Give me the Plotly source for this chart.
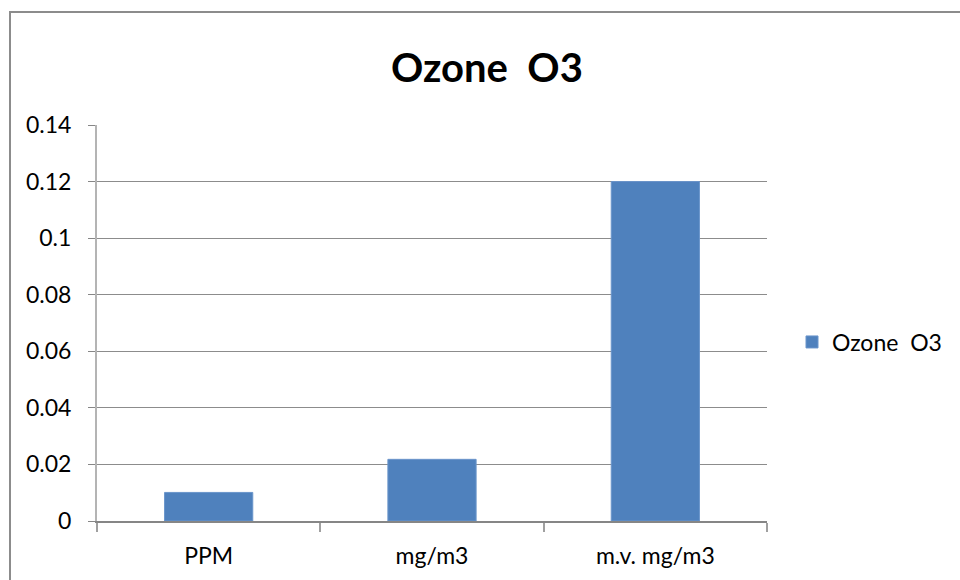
import plotly.graph_objects as go

categories = ["PPM", "mg/m3", "m.v. mg/m3"]
values = [0.0101, 0.0218, 0.12]
series_name = "Ozone  O3"
title_text = "Ozone  O3"
y_ticks = [0, 0.02, 0.04, 0.06, 0.08, 0.1, 0.12, 0.14]
y_tick_labels = ["0", "0.02", "0.04", "0.06", "0.08", "0.1", "0.12", "0.14"]

FONT = "Lato, Open Sans, sans-serif"
W, H = 960, 580
L, R, T, B = 97, W - 767, 125, H - 521

fig = go.Figure()
fig.add_trace(go.Bar(
    x=categories, y=values, name=series_name,
    marker=dict(color="#4f81bd", line=dict(color="#6a95cb", width=1)),
    showlegend=True,
))

pw = W - L - R
ph = H - T - B
def px(xp):
    return (xp - L) / pw
def py(yp):
    return (H - B - yp) / ph

fig.add_shape(type="rect", xref="paper", yref="paper",
              x0=px(10), x1=px(990), y0=py(620), y1=py(12),
              line=dict(color="#8c8c8c", width=2), fillcolor="rgba(0,0,0,0)", layer="below")

fig.update_layout(
    width=W, height=H,
    margin=dict(l=L, r=R, t=T, b=B, autoexpand=False),
    paper_bgcolor="white", plot_bgcolor="white",
    font=dict(family=FONT, color="#000000", size=23),
    title=dict(text="<b>" + title_text.replace("  ", "\u00a0 ") + "</b>", x=487 / W, xanchor="center",
               y=1 - 68 / H, yanchor="middle", font=dict(size=40, family=FONT)),
    bargap=0.605,
    showlegend=True,
    legend=dict(x=px(792), xanchor="left", y=py(342), yanchor="middle",
                font=dict(size=23), bgcolor="rgba(0,0,0,0)", itemwidth=30),
    xaxis=dict(showline=True, linecolor="#868686", linewidth=2, ticks="outside",
               tickson="boundaries", ticklen=9, tickcolor="#a0a0a0", tickwidth=2,
               showgrid=False, tickfont=dict(size=23), ticklabelstandoff=13),
    yaxis=dict(range=[0, 0.14], tickvals=y_ticks, ticktext=y_tick_labels,
               showline=True, linecolor="#b4b4b4", linewidth=2, ticks="outside",
               ticklen=7, tickcolor="#868686", showgrid=True, gridcolor="#8c8c8c",
               gridwidth=1, zeroline=False, tickfont=dict(size=23), ticklabelstandoff=12),
)

fig.write_html("out.html", config={"displayModeBar": False},
               post_script="document.body.style.margin='0';document.body.style.overflow='hidden';")
